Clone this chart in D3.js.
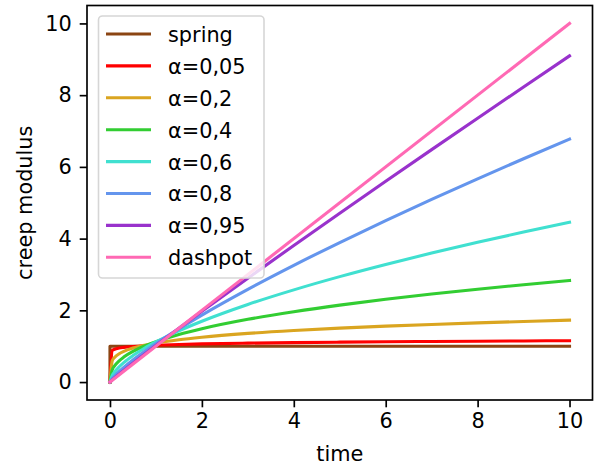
<!DOCTYPE html>
<html>
<head>
<meta charset="utf-8">
<script src="https://cdn.jsdelivr.net/npm/d3@7"></script>
<style>
  body { margin: 0; background: #fff; }
  text { font-family: "DejaVu Sans", sans-serif; fill: #000; }
</style>
</head>
<body>
<div id="chart"></div>
<script>
// sample times (shared by every fractional curve)
const times = [0, 0.05, 0.1, 0.2, 0.3, 0.5, 0.75, 1, 1.5, 2, 3, 4, 5, 6, 7, 8, 9, 10];

// creep modulus values
const spring = [[0, 0], [0, 1], [10, 1]];
const alpha005 = [0, 0.884, 0.916, 0.948, 0.967, 0.992, 1.013, 1.027, 1.048, 1.064, 1.085, 1.101, 1.113, 1.124, 1.132, 1.140, 1.147, 1.153];
const alpha02 = [0, 0.598, 0.687, 0.789, 0.856, 0.948, 1.028, 1.089, 1.181, 1.251, 1.357, 1.437, 1.503, 1.559, 1.607, 1.651, 1.690, 1.726];
const alpha04 = [0, 0.340, 0.449, 0.592, 0.696, 0.854, 1.005, 1.127, 1.326, 1.487, 1.749, 1.962, 2.146, 2.308, 2.455, 2.589, 2.714, 2.831];
const alpha06 = [0, 0.186, 0.281, 0.426, 0.544, 0.738, 0.942, 1.119, 1.428, 1.696, 2.164, 2.571, 2.940, 3.279, 3.597, 3.897, 4.183, 4.456];
const alpha08 = [0, 0.098, 0.170, 0.296, 0.410, 0.617, 0.853, 1.074, 1.485, 1.869, 2.586, 3.255, 3.891, 4.502, 5.093, 5.667, 6.227, 6.775];
const alpha095 = [0, 0.059, 0.115, 0.221, 0.325, 0.528, 0.777, 1.021, 1.500, 1.972, 2.898, 3.809, 4.708, 5.598, 6.482, 7.358, 8.229, 9.096];
const dashpot = [[0, 0], [10, 10]];

const labels = ["spring", "α=0,05", "α=0,2", "α=0,4", "α=0,6", "α=0,8", "α=0,95", "dashpot"];
const colors = ["#8B4513", "#FF0000", "#DAA520", "#32CD32", "#40E0D0", "#6495ED", "#9932CC", "#FF69B4"];
const xTicks = [0, 2, 4, 6, 8, 10];
const yTicks = [0, 2, 4, 6, 8, 10];

const width = 594;
const height = 468;
const margin = { top: 5.5, right: 1.5, bottom: 68, left: 87 };
const fontSize = 20.83;

const pair = vals => vals.map((v, i) => [times[i], v]);
const series = [spring, pair(alpha005), pair(alpha02), pair(alpha04),
                pair(alpha06), pair(alpha08), pair(alpha095), dashpot];

const x = d3.scaleLinear()
    .domain([-0.5, 10.5])
    .range([margin.left, width - margin.right]);

const y = d3.scaleLinear()
    .domain([-0.5, 10.5])
    .range([height - margin.bottom, margin.top]);

const svg = d3.select("#chart").append("svg")
    .attr("width", width)
    .attr("height", height);

const straight = d3.line()
    .x(d => x(d[0]))
    .y(d => y(d[1]));

const smooth = d3.line()
    .curve(d3.curveMonotoneX)
    .x(d => x(d[0]))
    .y(d => y(d[1]));

svg.append("g")
    .selectAll("path")
    .data(series)
    .join("path")
    .attr("fill", "none")
    .attr("stroke", (d, i) => colors[i])
    .attr("stroke-width", 3.1)
    .attr("stroke-linecap", "square")
    .attr("stroke-linejoin", "round")
    .attr("d", (d, i) => (i === 0 || i === series.length - 1) ? straight(d) : smooth(d));

// axes
const xAxis = svg.append("g")
    .attr("transform", `translate(0,${height - margin.bottom})`)
    .call(d3.axisBottom(x).tickValues(xTicks).tickSize(7.3).tickPadding(6).tickFormat(d3.format("d")));

const yAxis = svg.append("g")
    .attr("transform", `translate(${margin.left},0)`)
    .call(d3.axisLeft(y).tickValues(yTicks).tickSize(7.3).tickPadding(8).tickFormat(d3.format("d")));

[xAxis, yAxis].forEach(g => {
    g.select(".domain").remove();
    g.selectAll(".tick line").attr("stroke", "#000").attr("stroke-width", 1.67);
    g.selectAll(".tick text")
        .attr("font-size", fontSize)
        .attr("font-family", "DejaVu Sans, sans-serif");
});

// frame
svg.append("rect")
    .attr("x", x(-0.5))
    .attr("y", y(10.5))
    .attr("width", x(10.5) - x(-0.5))
    .attr("height", y(-0.5) - y(10.5))
    .attr("fill", "none")
    .attr("stroke", "#000")
    .attr("stroke-width", 1.67);

// axis labels
svg.append("text")
    .attr("x", (x(-0.5) + x(10.5)) / 2)
    .attr("y", 461)
    .attr("text-anchor", "middle")
    .attr("font-size", fontSize)
    .text("time");

svg.append("text")
    .attr("transform", `translate(31.5,${(y(-0.5) + y(10.5)) / 2}) rotate(-90)`)
    .attr("text-anchor", "middle")
    .attr("font-size", fontSize)
    .text("creep modulus");

// legend
const legend = svg.append("g");

legend.append("rect")
    .attr("x", 98.5)
    .attr("y", 16)
    .attr("width", 165.5)
    .attr("height", 262)
    .attr("rx", 4)
    .attr("fill", "#fff")
    .attr("fill-opacity", 0.8)
    .attr("stroke", "#d6d6d6")
    .attr("stroke-width", 1.6);

const rows = legend.selectAll("g.row")
    .data(labels)
    .join("g")
    .attr("class", "row")
    .attr("transform", (d, i) => `translate(0,${34 + i * 31.9})`);

rows.append("line")
    .attr("x1", 106)
    .attr("x2", 151)
    .attr("stroke", (d, i) => colors[i])
    .attr("stroke-width", 3.1);

rows.append("text")
    .attr("x", 168)
    .attr("dy", "0.38em")
    .attr("font-size", fontSize)
    .text(d => d);
</script>
</body>
</html>
